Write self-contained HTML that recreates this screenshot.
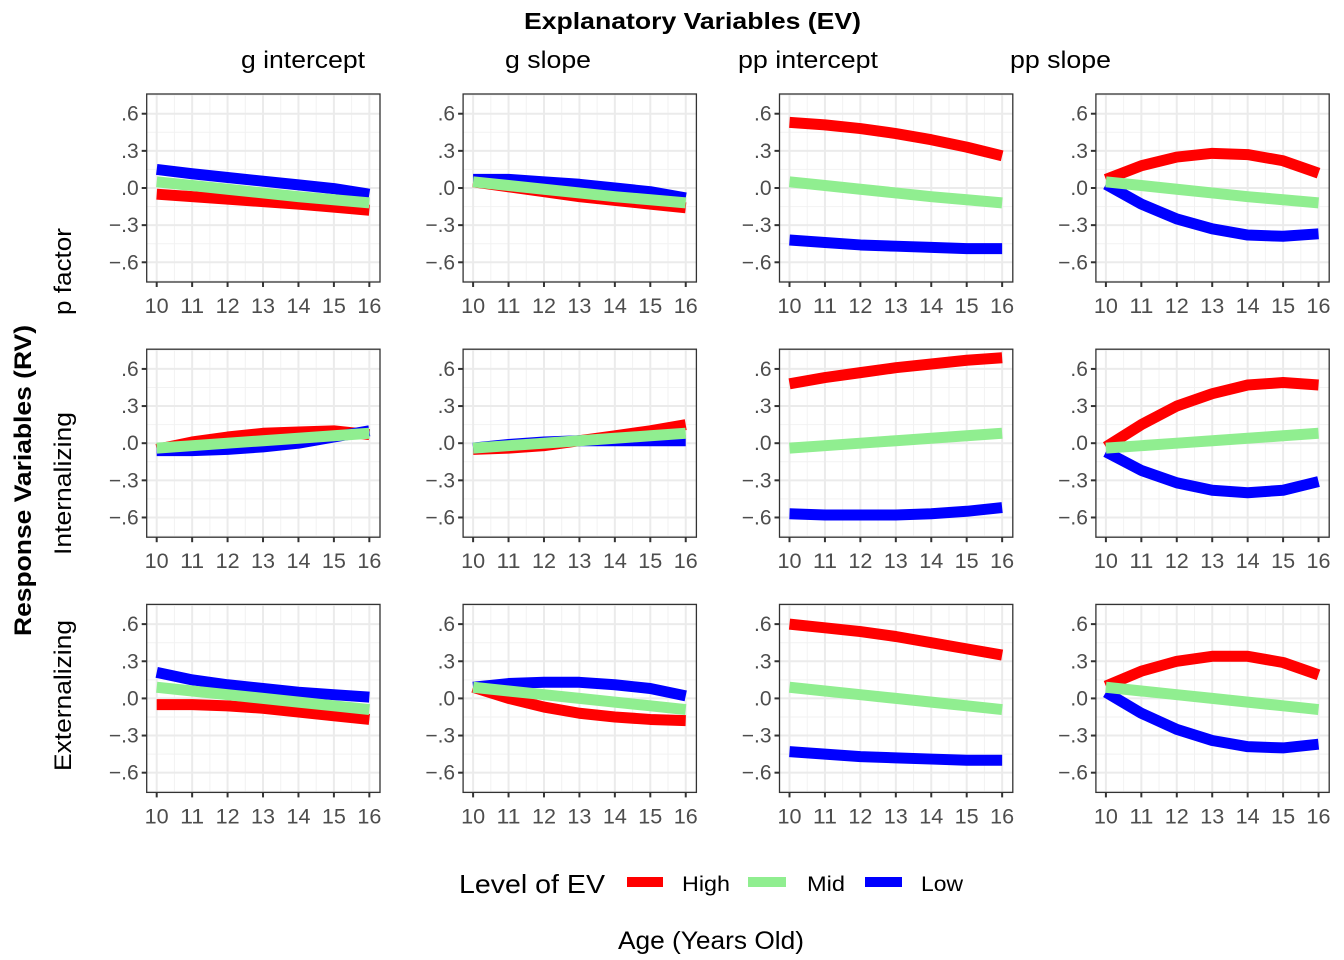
<!DOCTYPE html>
<html><head><meta charset="utf-8"><style>
html,body{margin:0;padding:0;background:#fff;}
svg{display:block;font-family:"Liberation Sans",sans-serif;}
</style></head><body>
<svg id="s" width="1344" height="960" xmlns="http://www.w3.org/2000/svg">
<text x="524" y="29" textLength="337" lengthAdjust="spacingAndGlyphs" font-size="23" font-weight="bold">Explanatory Variables (EV)</text>
<text x="241" y="68" textLength="124" lengthAdjust="spacingAndGlyphs" font-size="24">g intercept</text>
<text x="505" y="68" textLength="86" lengthAdjust="spacingAndGlyphs" font-size="24">g slope</text>
<text x="738" y="68" textLength="140" lengthAdjust="spacingAndGlyphs" font-size="24">pp intercept</text>
<text x="1010" y="68" textLength="101" lengthAdjust="spacingAndGlyphs" font-size="24">pp slope</text>
<text transform="translate(71,315) rotate(-90)" textLength="87" lengthAdjust="spacingAndGlyphs" font-size="24">p factor</text>
<text transform="translate(71,555) rotate(-90)" textLength="143" lengthAdjust="spacingAndGlyphs" font-size="24">Internalizing</text>
<text transform="translate(71,771) rotate(-90)" textLength="151" lengthAdjust="spacingAndGlyphs" font-size="24">Externalizing</text>
<text transform="translate(31,636) rotate(-90)" textLength="311" lengthAdjust="spacingAndGlyphs" font-size="24" font-weight="bold">Response Variables (RV)</text>
<text x="459" y="893" textLength="146" lengthAdjust="spacingAndGlyphs" font-size="26">Level of EV</text>
<line x1="627" y1="882" x2="663" y2="882" stroke="#f00" stroke-width="10"/>
<line x1="748" y1="882" x2="786" y2="882" stroke="#90ee90" stroke-width="10"/>
<line x1="865" y1="882" x2="902" y2="882" stroke="#00f" stroke-width="10"/>
<text x="682" y="891" textLength="48" lengthAdjust="spacingAndGlyphs" font-size="21">High</text>
<text x="807" y="891" textLength="38" lengthAdjust="spacingAndGlyphs" font-size="21">Mid</text>
<text x="921" y="891" textLength="42" lengthAdjust="spacingAndGlyphs" font-size="21">Low</text>
<text x="618" y="949" textLength="186" lengthAdjust="spacingAndGlyphs" font-size="25">Age (Years Old)</text>
<g id="p"></g>
</svg>
<script>
var D=[
[[[-0.05,-0.07,-0.09,-0.11,-0.13,-0.155,-0.18],[0.15,0.115,0.085,0.055,0.025,-0.005,-0.05],[0.05,0.02,-0.01,-0.04,-0.07,-0.095,-0.12]],
 [[0.05,0.01,-0.03,-0.07,-0.1,-0.13,-0.16],[0.07,0.07,0.05,0.03,0.0,-0.03,-0.08],[0.05,0.02,-0.01,-0.04,-0.07,-0.095,-0.12]],
 [[0.53,0.51,0.48,0.44,0.39,0.33,0.26],[-0.42,-0.44,-0.46,-0.47,-0.48,-0.49,-0.49],[0.05,0.02,-0.01,-0.04,-0.07,-0.095,-0.12]],
 [[0.07,0.18,0.25,0.28,0.27,0.22,0.12],[0.03,-0.13,-0.25,-0.33,-0.38,-0.39,-0.37],[0.05,0.02,-0.01,-0.04,-0.07,-0.095,-0.12]]],
[[[-0.05,0.01,0.05,0.08,0.09,0.1,0.07],[-0.06,-0.06,-0.05,-0.03,0.0,0.05,0.1],[-0.04,-0.02,0.0,0.02,0.04,0.06,0.08]],
 [[-0.05,-0.04,-0.02,0.02,0.06,0.1,0.15],[-0.04,-0.01,0.01,0.02,0.02,0.02,0.02],[-0.04,-0.02,0.0,0.02,0.04,0.06,0.08]],
 [[0.48,0.53,0.57,0.61,0.64,0.67,0.69],[-0.57,-0.58,-0.58,-0.58,-0.57,-0.55,-0.52],[-0.04,-0.02,0.0,0.02,0.04,0.06,0.08]],
 [[-0.03,0.15,0.30,0.40,0.47,0.49,0.47],[-0.07,-0.22,-0.32,-0.38,-0.40,-0.38,-0.31],[-0.04,-0.02,0.0,0.02,0.04,0.06,0.08]]],
[[[-0.05,-0.05,-0.06,-0.08,-0.11,-0.14,-0.17],[0.21,0.15,0.11,0.08,0.05,0.03,0.01],[0.09,0.06,0.03,0.0,-0.03,-0.06,-0.09]],
 [[0.09,0.0,-0.07,-0.12,-0.15,-0.17,-0.18],[0.09,0.12,0.13,0.13,0.11,0.08,0.02],[0.09,0.06,0.03,0.0,-0.03,-0.06,-0.09]],
 [[0.6,0.57,0.54,0.5,0.45,0.4,0.35],[-0.43,-0.45,-0.47,-0.48,-0.49,-0.5,-0.5],[0.09,0.06,0.03,0.0,-0.03,-0.06,-0.09]],
 [[0.1,0.22,0.3,0.34,0.34,0.29,0.19],[0.05,-0.12,-0.25,-0.34,-0.39,-0.4,-0.37],[0.09,0.06,0.03,0.0,-0.03,-0.06,-0.09]]]];
var cols=["#f00","#00f","#90ee90"],h="";
for(var r=0;r<3;r++)for(var c=0;c<4;c++){
 var L=146.7+c*316.4,T=94+r*255.2,W=233.3,H=188;
 var X0=L+10,XS=35.44,Y0=T+94,YS=123.8;
 function X(a){return X0+(a-10)*XS}function Y(v){return Y0-v*YS}
 h+='<rect x="'+L+'" y="'+T+'" width="'+W+'" height="'+H+'" fill="#fff"/>';
 for(var a=10.5;a<16;a+=1)h+='<line x1="'+X(a)+'" x2="'+X(a)+'" y1="'+T+'" y2="'+(T+H)+'" stroke="#f2f2f2" stroke-width="1"/>';
 [-0.75,-0.45,-0.15,0.15,0.45,0.75].forEach(function(v){h+='<line x1="'+L+'" x2="'+(L+W)+'" y1="'+Y(v)+'" y2="'+Y(v)+'" stroke="#f2f2f2" stroke-width="1"/>';});
 for(var a=10;a<=16;a++){h+='<line x1="'+X(a)+'" x2="'+X(a)+'" y1="'+T+'" y2="'+(T+H)+'" stroke="#ebebeb" stroke-width="2"/>';
  h+='<line x1="'+X(a)+'" x2="'+X(a)+'" y1="'+(T+H)+'" y2="'+(T+H+5)+'" stroke="#333" stroke-width="2"/>';
  h+='<text x="'+X(a)+'" y="'+(T+H+31)+'" text-anchor="middle" font-size="21" textLength="24" lengthAdjust="spacingAndGlyphs" fill="#4d4d4d">'+a+'</text>';}
 [[-0.6,"\u2212.6"],[-0.3,"\u2212.3"],[0,".0"],[0.3,".3"],[0.6,".6"]].forEach(function(p){
  h+='<line x1="'+L+'" x2="'+(L+W)+'" y1="'+Y(p[0])+'" y2="'+Y(p[0])+'" stroke="#ebebeb" stroke-width="2"/>';
  h+='<line x1="'+(L-5)+'" x2="'+L+'" y1="'+Y(p[0])+'" y2="'+Y(p[0])+'" stroke="#333" stroke-width="2"/>';
  h+='<text x="'+(L-8)+'" y="'+(Y(p[0])+7)+'" text-anchor="end" font-size="21" fill="#4d4d4d">'+p[1]+'</text>';});
 for(var k=0;k<3;k++){var pts=D[r][c][k].map(function(v,i){return X(10+i)+","+Y(v)}).join(" ");
  h+='<polyline points="'+pts+'" fill="none" stroke="'+cols[k]+'" stroke-width="11" stroke-linejoin="round"/>';}
 h+='<rect x="'+L+'" y="'+T+'" width="'+W+'" height="'+H+'" fill="none" stroke="#333" stroke-width="1.3"/>';
}
document.getElementById("p").innerHTML=h;
</script>
</body></html>
